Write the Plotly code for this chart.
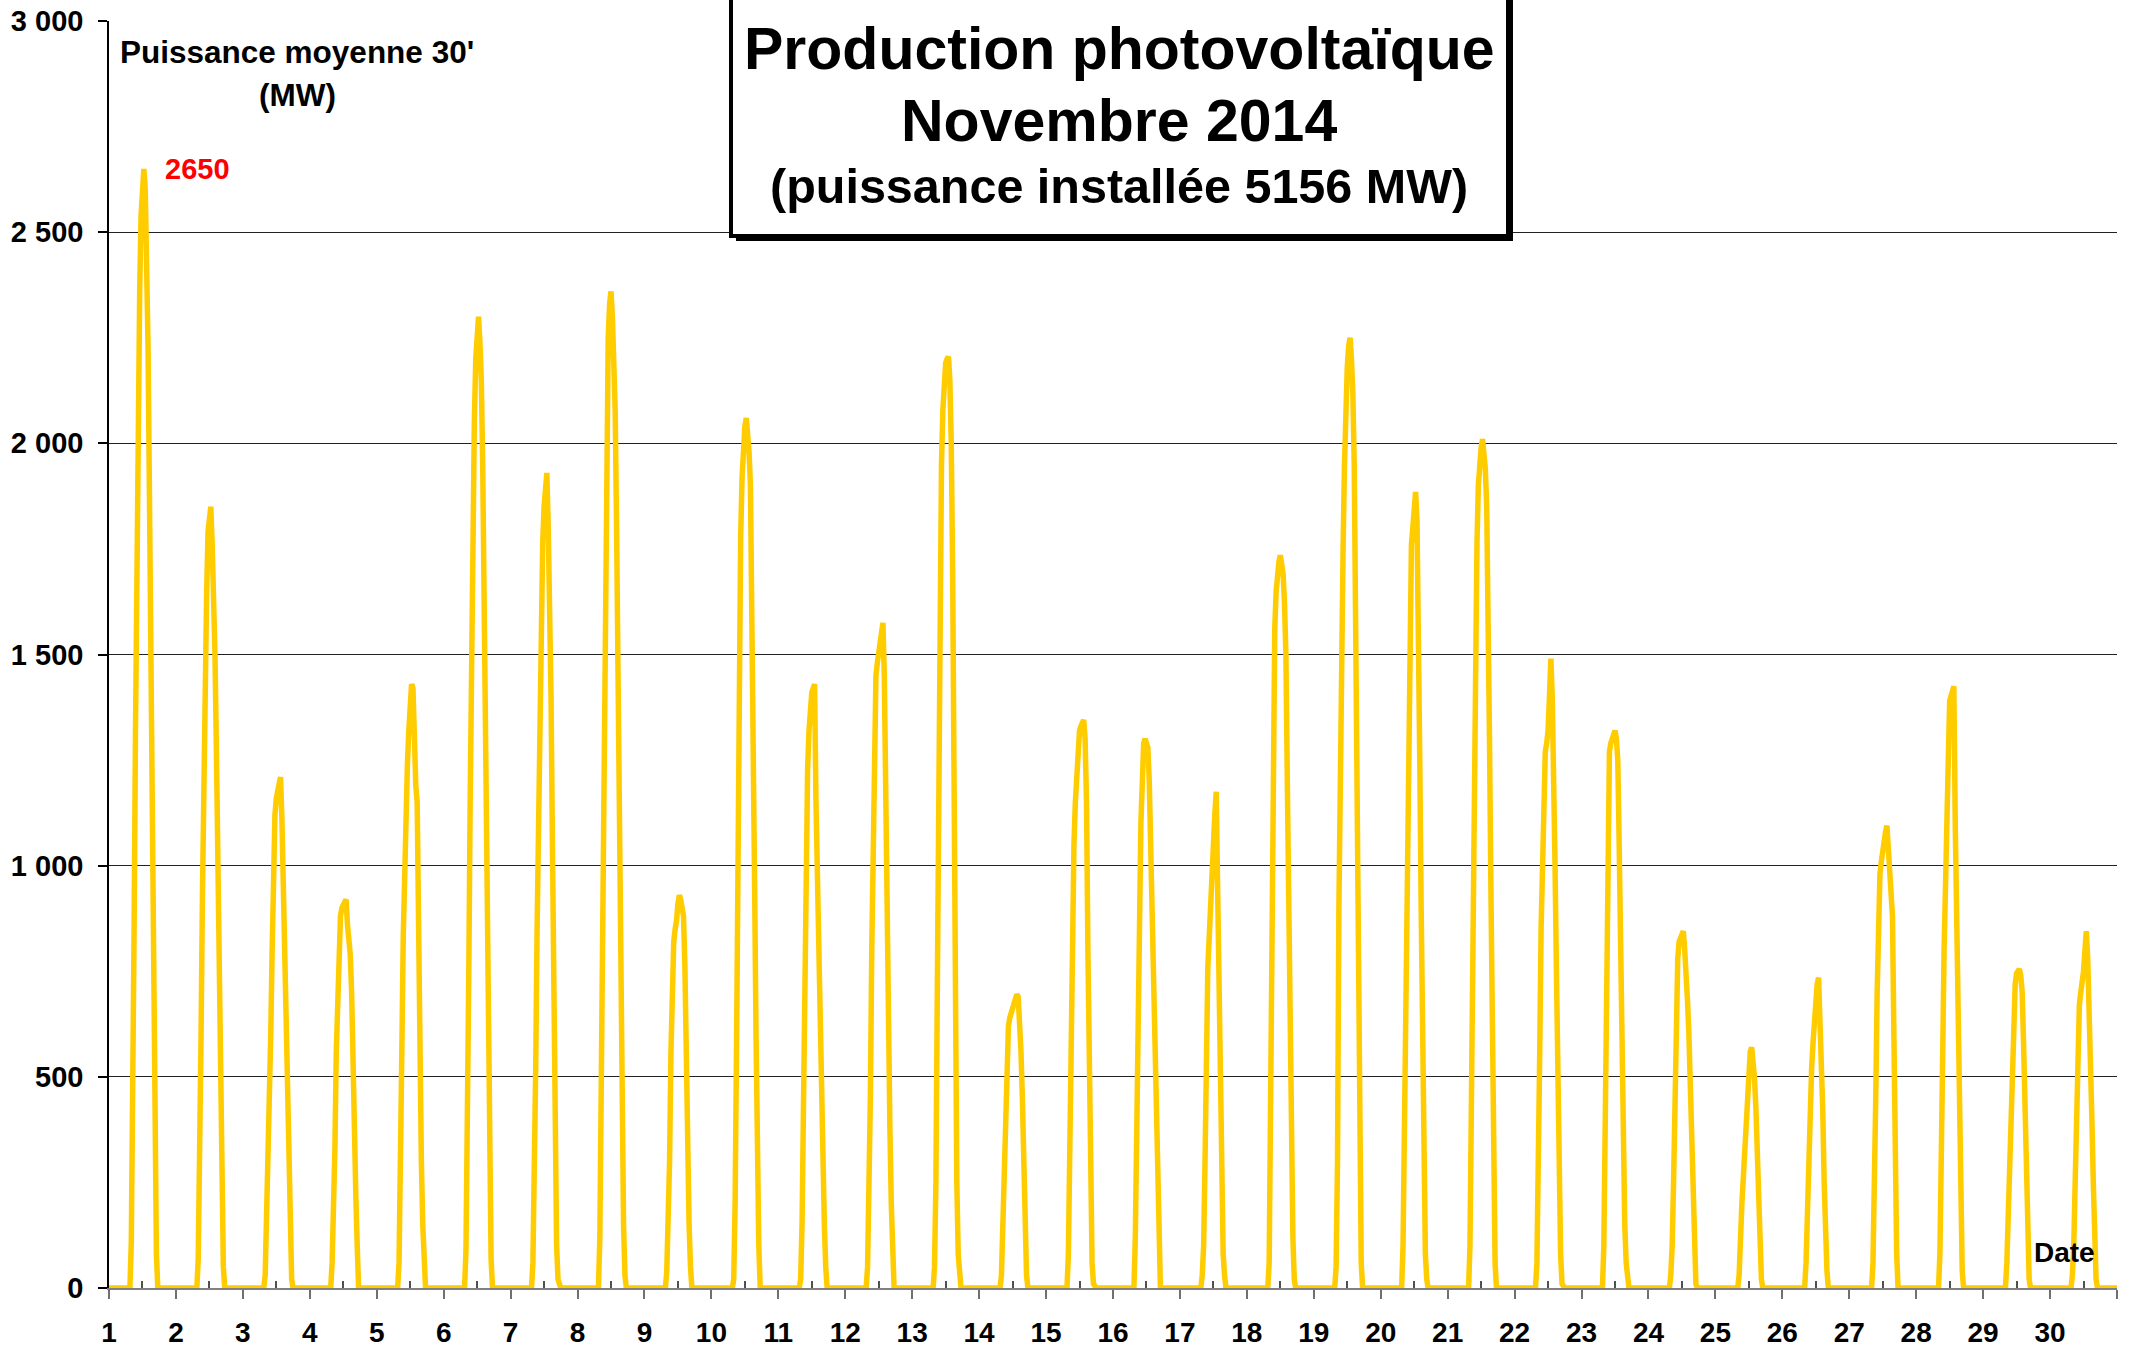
import plotly.graph_objects as go

# ---------------- DATA ----------------
# Half-hourly mean PV power (MW), daylight values for 08:00, 08:30, ..., 17:30 each day
# (night half-hours are zero)
days = list(range(1, 31))
day_values = {
    1: [110, 400, 850, 1320, 1750, 2090, 2360, 2540, 2620, 2650, 2600, 2460, 2230, 1880, 1460, 1010, 580, 270, 80, 0],
    2: [70, 280, 590, 930, 1230, 1460, 1640, 1790, 1820, 1850, 1760, 1660, 1500, 1280, 1000, 700, 400, 180, 50, 0],
    3: [30, 150, 290, 420, 600, 800, 1050, 1120, 1160, 1180, 1195, 1210, 1110, 960, 760, 560, 450, 330, 140, 20],
    4: [60, 160, 330, 560, 700, 780, 880, 900, 910, 915, 920, 860, 820, 790, 700, 480, 330, 220, 100, 0],
    5: [60, 250, 560, 830, 1030, 1180, 1240, 1320, 1380, 1430, 1420, 1210, 1190, 1150, 800, 500, 300, 150, 40, 0],
    6: [90, 350, 740, 1150, 1520, 1820, 2050, 2200, 2280, 2300, 2240, 2150, 1950, 1650, 1280, 880, 500, 230, 70, 0],
    7: [60, 250, 520, 850, 1150, 1450, 1620, 1760, 1850, 1900, 1930, 1800, 1650, 1400, 1050, 650, 300, 100, 20, 0],
    8: [120, 480, 950, 1450, 1850, 2100, 2250, 2330, 2360, 2300, 2200, 2080, 1800, 1400, 1000, 650, 350, 150, 30, 0],
    9: [40, 160, 300, 560, 720, 820, 850, 870, 910, 930, 920, 900, 880, 760, 520, 320, 150, 50, 0, 0],
    10: [20, 200, 560, 1100, 1500, 1780, 1920, 2000, 2040, 2060, 2030, 1980, 1900, 1650, 1300, 950, 600, 300, 100, 0],
    11: [20, 150, 420, 800, 1050, 1230, 1320, 1390, 1410, 1420, 1430, 1150, 950, 760, 560, 400, 260, 150, 50, 0],
    12: [50, 220, 450, 800, 1100, 1300, 1450, 1480, 1510, 1530, 1560, 1575, 1450, 1100, 850, 600, 380, 200, 60, 0],
    13: [50, 250, 700, 1250, 1700, 1950, 2080, 2150, 2190, 2200, 2205, 2150, 2000, 1700, 1150, 600, 250, 80, 10, 0],
    14: [30, 150, 320, 480, 560, 620, 640, 650, 660, 670, 680, 695, 690, 640, 560, 450, 280, 120, 30, 0],
    15: [80, 350, 650, 900, 1050, 1150, 1230, 1290, 1320, 1330, 1340, 1345, 1300, 1150, 800, 450, 200, 60, 10, 0],
    16: [120, 450, 650, 850, 1100, 1280, 1290, 1300, 1290, 1280, 1200, 1050, 850, 650, 480, 330, 160, 60, 0, 0],
    17: [30, 100, 300, 600, 760, 830, 920, 1000, 1060, 1120, 1175, 950, 700, 420, 200, 80, 30, 0, 0, 0],
    18: [60, 450, 1000, 1350, 1560, 1650, 1700, 1720, 1735, 1710, 1690, 1620, 1500, 1200, 900, 600, 320, 120, 20, 0],
    19: [50, 300, 900, 1300, 1550, 1750, 1950, 2100, 2180, 2230, 2250, 2200, 2120, 1950, 1550, 1050, 600, 300, 60, 0],
    20: [100, 380, 800, 1150, 1400, 1620, 1760, 1800, 1850, 1885, 1820, 1600, 1250, 900, 500, 250, 80, 20, 0, 0],
    21: [100, 450, 850, 1250, 1550, 1760, 1900, 1960, 1990, 2010, 1980, 1940, 1850, 1650, 1300, 950, 550, 250, 60, 0],
    22: [60, 250, 550, 850, 1050, 1200, 1270, 1290, 1320, 1400, 1490, 1400, 1250, 1000, 750, 450, 250, 80, 10, 0],
    23: [100, 450, 850, 1150, 1270, 1290, 1300, 1310, 1320, 1300, 1250, 1050, 800, 550, 320, 150, 60, 10, 0, 0],
    24: [30, 100, 250, 450, 600, 780, 820, 830, 840, 845, 800, 750, 680, 600, 480, 400, 200, 80, 10, 0],
    25: [0, 30, 150, 200, 260, 330, 400, 470, 540, 560, 570, 540, 500, 430, 330, 230, 100, 20, 0, 0],
    26: [0, 60, 180, 350, 480, 520, 580, 640, 700, 720, 735, 640, 540, 420, 250, 120, 40, 0, 0, 0],
    27: [0, 60, 200, 450, 700, 900, 980, 1010, 1040, 1060, 1080, 1095, 1040, 1000, 960, 880, 600, 300, 80, 0],
    28: [0, 80, 250, 550, 800, 1000, 1120, 1250, 1390, 1400, 1410, 1425, 1100, 900, 650, 400, 150, 40, 0, 0],
    29: [0, 60, 180, 320, 430, 560, 650, 720, 745, 750, 755, 740, 700, 580, 400, 250, 100, 20, 0, 0],
    30: [30, 100, 250, 450, 600, 670, 700, 720, 750, 800, 845, 780, 680, 550, 400, 250, 100, 20, 0, 0],
}
first_daylight_slot = 16  # 08:00 = slot 16 of 48
x_tick_labels = [str(d) for d in days]
y_tick_values = [0, 500, 1000, 1500, 2000, 2500, 3000]
y_tick_labels = ["0", "500", "1 000", "1 500", "2 000", "2 500", "3 000"]
peak_label = "2650"

# ---------------- BUILD SERIES ----------------
xs, ys = [], []
for d in days:
    vals = day_values[d]
    for k in range(48):
        xs.append(d + k / 48)
        j = k - first_daylight_slot
        ys.append(vals[j] if 0 <= j < len(vals) else 0)
xs.append(31)
ys.append(0)

W, H = 2134, 1355
L, R, T, B = 109, 17, 21, 67
PW, PH = W - L - R, H - T - B


def px(x):
    return (x - L) / PW


def py(y):
    return (H - B - y) / PH


FONT = "Liberation Sans, Arial, sans-serif"

fig = go.Figure()
fig.add_trace(go.Scatter(x=xs, y=ys, mode="lines",
                         line=dict(color="#FFCC00", width=5.5),
                         hoverinfo="skip", showlegend=False))

fig.update_layout(
    width=W, height=H,
    margin=dict(l=L, r=R, t=T, b=B),
    paper_bgcolor="white", plot_bgcolor="white",
    font=dict(family=FONT, color="black"),
    showlegend=False,
)

fig.update_xaxes(
    range=[1, 31],
    automargin=False,
    tickmode="array",
    tickvals=days + [31],
    ticktext=x_tick_labels + [""],
    ticks="outside", ticklen=9, tickwidth=2, tickcolor="#707070",
    ticklabelstandoff=9,
    tickfont=dict(size=28, family=FONT, color="black", weight="bold"),
    showline=True, linecolor="#808080", linewidth=2,
    showgrid=False, zeroline=False,
    minor=dict(tickmode="array", tickvals=[d + 0.5 for d in days],
               ticks="inside", ticklen=7, tickwidth=1.5, tickcolor="#505050",
               showgrid=False),
)

fig.update_yaxes(
    range=[0, 3000],
    automargin=False,
    tickmode="array",
    tickvals=y_tick_values,
    ticktext=y_tick_labels,
    ticks="outside", ticklen=9, tickwidth=1.5, tickcolor="black",
    ticklabelstandoff=9,
    tickfont=dict(size=29, family=FONT, color="black", weight="bold"),
    showline=True, linecolor="black", linewidth=1.5,
    showgrid=True, gridcolor="#222222", gridwidth=1,
    zeroline=False,
)

# Title box with drop shadow
box_l, box_r, box_t, box_b = 731, 1508, -10, 236
shadow = 5
fig.add_shape(type="rect", xref="paper", yref="paper",
              x0=px(box_l + shadow), x1=px(box_r + shadow),
              y0=py(box_b + shadow), y1=py(box_t),
              fillcolor="black", line=dict(width=0), layer="above")
fig.add_shape(type="rect", xref="paper", yref="paper",
              x0=px(box_l), x1=px(box_r), y0=py(box_b), y1=py(box_t),
              fillcolor="white", line=dict(color="black", width=4), layer="above")

cx = 1119
for txt, yc, sz in [("Production photovoltaïque", 49, 59),
                    ("Novembre 2014", 121, 59),
                    ("(puissance installée 5156 MW)", 186, 48.5)]:
    fig.add_annotation(text=txt, xref="paper", yref="paper",
                       x=px(cx), y=py(yc), xanchor="center", yanchor="middle",
                       showarrow=False,
                       font=dict(size=sz, family=FONT, color="black", weight="bold"))

# Axis unit label
for txt, yc in [("Puissance moyenne 30'", 52), ("(MW)", 95)]:
    fig.add_annotation(text=txt, xref="paper", yref="paper",
                       x=px(297), y=py(yc), xanchor="center", yanchor="middle",
                       showarrow=False,
                       font=dict(size=31.5, family=FONT, color="black", weight="bold"))

# Peak label
fig.add_annotation(text=peak_label, xref="paper", yref="paper",
                   x=px(163), y=py(169), xanchor="left", yanchor="middle",
                   showarrow=False,
                   font=dict(size=29, family=FONT, color="#FF0000", weight="bold"))

# x-axis title
fig.add_annotation(text="Date", xref="paper", yref="paper",
                   x=px(2064), y=py(1252), xanchor="center", yanchor="middle",
                   showarrow=False,
                   font=dict(size=28, family=FONT, color="black", weight="bold"))

fig.write_html("out.html",
               config={"displayModeBar": False},
               post_script="document.body.style.margin='0';document.body.style.overflow='hidden';")
